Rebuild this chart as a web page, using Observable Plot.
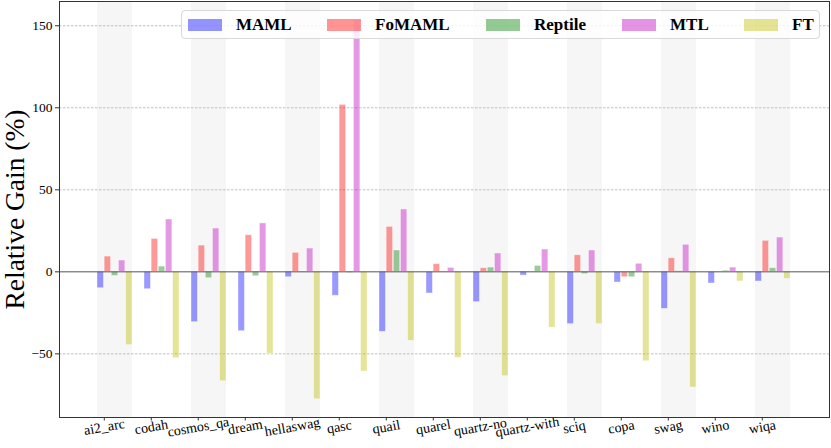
<!DOCTYPE html>
<html>
<head>
<meta charset="utf-8">
<script src="https://cdn.jsdelivr.net/npm/d3@7"></script>
<script src="https://cdn.jsdelivr.net/npm/@observablehq/plot@0.6"></script>
<style>
  html, body { margin: 0; padding: 0; background: #fff; }
  #wrap { position: relative; width: 831px; height: 448px; font-family: "Liberation Serif", "Times New Roman", serif; }
  #legend { position: absolute; left: 181px; top: 10px; width: 639px; height: 29px; box-sizing: border-box;
    border: 1px solid #d9d9d9; border-radius: 4px; background: rgba(255,255,255,0.8); }
  .item { position: absolute; top: 0; height: 27px; display: flex; align-items: center; }
  .sw { width: 34px; height: 12px; margin-right: 14px; }
  .lab { font-weight: bold; font-size: 17px; color: #000; }
</style>
</head>
<body>
<div id="wrap"><div id="chart"></div><div id="legend"></div></div>
<script>
const categories = ["ai2_arc","codah","cosmos_qa","dream","hellaswag","qasc","quail","quarel","quartz-no","quartz-with","sciq","copa","swag","wino","wiqa"];
const seriesNames = ["MAML","FoMAML","Reptile","MTL","FT"];
const seriesColors = ["#0000ff","#ff0000","#008000","#bf00bf","#bfbf00"];
const maml    = [-10.0,-10.6,-30.7,-36.2,-3.3,-14.6,-36.6,-13.2,-18.5,-2.3,-31.9,-6.5,-22.6,-7.1,-5.9];
const fomaml  = [9.3,20.1,16.0,22.3,11.6,101.8,27.4,4.7,2.2,0.2,10.1,-3.3,8.3,0.2,18.9];
const reptile = [-2.5,3.2,-3.9,-2.7,0.2,-0.7,13.0,0.2,2.6,3.6,-1.4,-3.3,0.4,0.7,2.2];
const mtl     = [6.9,31.9,26.4,29.5,14.2,153.5,38.0,2.4,11.2,13.6,13.0,4.9,16.5,2.6,20.9];
const ft      = [-44.7,-52.7,-66.7,-50.0,-77.7,-60.8,-42.1,-52.5,-63.6,-34.0,-31.9,-54.5,-70.5,-5.9,-4.3];
const yTicks = [-50, 0, 50, 100, 150];
const gridTicks = [-50, 50, 100, 150];
const yLabel = "Relative Gain (%)";

const seriesValues = [maml, fomaml, reptile, mtl, ft];
const shaded = categories.filter((c, i) => i % 2 === 0);

const W = 831, H = 448, ML = 59, MR = 2, MT = 1, MB = 31;
const xOpts = {type: "band", domain: categories, paddingInner: 0.248, paddingOuter: 0.7355, align: 0.5};
const xs = Plot.scale({x: {...xOpts, range: [ML, W - MR]}});
const bw = xs.bandwidth;
const sub = bw / seriesNames.length;

const barMarks = seriesNames.map((s, j) => Plot.barY(categories.map((c, i) => ({category: c, value: seriesValues[j][i]})), {
  x: "category", y: "value",
  fill: seriesColors[j], fillOpacity: 0.4,
  stroke: "white", strokeOpacity: 0.5, strokeWidth: 0.8,
  insetLeft: j * sub, insetRight: (seriesNames.length - 1 - j) * sub
}));

const chart = Plot.plot({
  width: W, height: H,
  marginLeft: ML, marginRight: MR, marginTop: MT, marginBottom: MB,
  style: {fontFamily: "'Liberation Serif', 'Times New Roman', serif", background: "transparent"},
  x: {...xOpts, label: null},
  y: {domain: [-88.8, 164.8], label: null},
  marks: [
    Plot.cell(shaded, {x: d => d, fill: "#f6f6f6"}),
    Plot.gridY(gridTicks, {stroke: "#b0b0b0", strokeOpacity: 1, strokeWidth: 0.8, strokeDasharray: "2.5,1.5"}),
    ...barMarks,
    Plot.ruleY([0], {stroke: "#555", strokeWidth: 1}),
    Plot.axisY(yTicks, {anchor: "left", tickSize: 4, tickPadding: 3, fontSize: 13.5, stroke: "#333", fill: "#000", label: null,
      tickFormat: d => d < 0 ? "\u2212" + Math.abs(d) : String(d)}),
    Plot.axisX({anchor: "bottom", tickSize: 3.5, tickPadding: 6, fontSize: 14, tickRotate: -10, textAnchor: "middle",
      dx: -1.5 * sub, stroke: "#333", fill: "#000", label: null}),
    Plot.text([yLabel], {frameAnchor: "left", textAnchor: "middle", rotate: -90, dx: -44, fontSize: 27.5, fill: "#000"}),
    Plot.frame({stroke: "#333", strokeWidth: 1})
  ]
});
document.getElementById("chart").appendChild(chart);

const legendLefts = [6, 145, 304, 440, 562];
const legend = document.getElementById("legend");
seriesNames.forEach((s, j) => {
  const it = document.createElement("div");
  it.className = "item";
  it.style.left = legendLefts[j] + "px";
  const sw = document.createElement("div");
  sw.className = "sw";
  sw.style.background = seriesColors[j];
  sw.style.opacity = 0.42;
  const lb = document.createElement("span");
  lb.className = "lab";
  lb.textContent = s;
  it.appendChild(sw); it.appendChild(lb);
  legend.appendChild(it);
});
</script>
</body>
</html>
